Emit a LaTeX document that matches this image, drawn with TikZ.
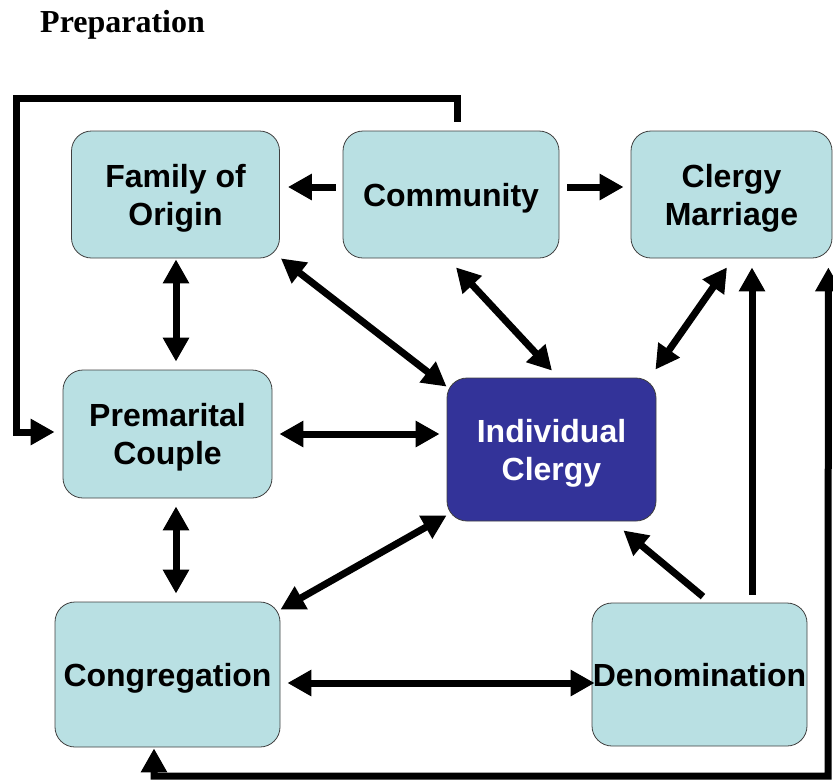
\documentclass[tikz,border=0pt]{standalone}
\usepackage{fontspec}
\setmainfont{Liberation Sans}
\newfontfamily\titlefont{Liberation Serif}
\usetikzlibrary{arrows.meta}
\definecolor{boxfill}{RGB}{185,224,227}
\definecolor{indfill}{RGB}{51,51,153}
\begin{document}
\begin{tikzpicture}[x=1pt,y=-1pt,
  box/.style={draw=black!75, line width=0.8pt, fill=boxfill, rounded corners=20pt,
    align=center, inner sep=0pt, text depth=0pt, font=\fontsize{32}{38}\selectfont\bfseries, text=black},
  indbox/.style={box, fill=indfill, text=white},
  sgl/.style={line width=7pt, -{Triangle[length=24pt,width=25pt]}},
  dbl/.style={line width=7pt, {Triangle[length=24pt,width=25pt]}-{Triangle[length=24pt,width=25pt]}},
  loopline/.style={line width=7pt, line join=miter}
]
\useasboundingbox (0,0) rectangle (833,780);

\node[anchor=base west, inner sep=0pt, font=\titlefont\fontsize{32}{36}\selectfont\bfseries] (title) at (40,32) {Preparation};

\node[box, minimum width=208pt, minimum height=127pt] (fam) at (175.5,194.5) {Family of\\Origin};
\node[box, minimum width=216pt, minimum height=127pt] (com) at (451,194.5) {Community};
\node[box, minimum width=201pt, minimum height=127pt] (cm) at (731.5,194.5) {Clergy\\Marriage};
\node[box, minimum width=209pt, minimum height=128pt] (pre) at (167.5,434) {Premarital\\Couple};
\node[indbox, minimum width=209pt, minimum height=143pt] (ind) at (551.5,449.5) {Individual\\Clergy};
\node[box, minimum width=225pt, minimum height=145pt] (con) at (167.5,674.5) {Congregation};
\node[box, minimum width=215pt, minimum height=143pt] (den) at (699.5,674.5) {Denomination};

% single arrows from Community
\draw[sgl] ([shift={(-7,-7.5)}]com.west) -- ([shift={(8,-7.5)}]fam.east);
\draw[sgl] ([shift={(8,-7.5)}]com.east) -- ([shift={(-7,-7.5)}]cm.west);

% double arrows
\draw[dbl] ([shift={(0.5,1)}]fam.south) -- ([shift={(8.5,-8)}]pre.north);
\draw[dbl] ([shift={(1,0)}]fam.south east) -- ([shift={(0,9)}]ind.north west);
\draw[dbl] ([shift={(5,9)}]com.south) -- ([shift={(0.5,-7)}]ind.north);
\draw[dbl] ([shift={(-4.5,9)}]cm.south) -- ([shift={(-1,-8)}]ind.north east);
\draw[dbl] ([shift={(7,0)}]pre.east) -- ([shift={(-7,-15.5)}]ind.west);
\draw[dbl] ([shift={(8.5,8)}]pre.south) -- ([shift={(8.5,-8)}]con.north);
\draw[dbl] ([shift={(0,8)}]con.north east) -- ([shift={(0,-6)}]ind.south west);
\draw[dbl] ([shift={(7,8.5)}]con.east) -- ([shift={(3,8.5)}]den.west);

% from Denomination
\draw[sgl] ([shift={(3.5,-6)}]den.north) -- ([shift={(-33,9)}]ind.south east);
\draw[sgl] ([shift={(52.5,-8)}]den.north) -- ([shift={(20.5,9)}]cm.south);

% top loop: Community -> Premarital Couple
\coordinate (tl) at (16,98);
\draw[loopline, -{Triangle[length=24pt,width=25pt]}] ([shift={(6,-9)}]com.north) |- (tl) |- ([shift={(-8,-2)}]pre.west);

% right/bottom loop: Clergy Marriage <-> Congregation
\coordinate (br) at (828,776);
\draw[loopline, {Triangle[length=24pt,width=25pt]}-{Triangle[length=24pt,width=25pt]}] ([shift={(-4,9)}]cm.south east) -- (br) -| ([shift={(-13.5,1)}]con.south);
\end{tikzpicture}
\end{document}
